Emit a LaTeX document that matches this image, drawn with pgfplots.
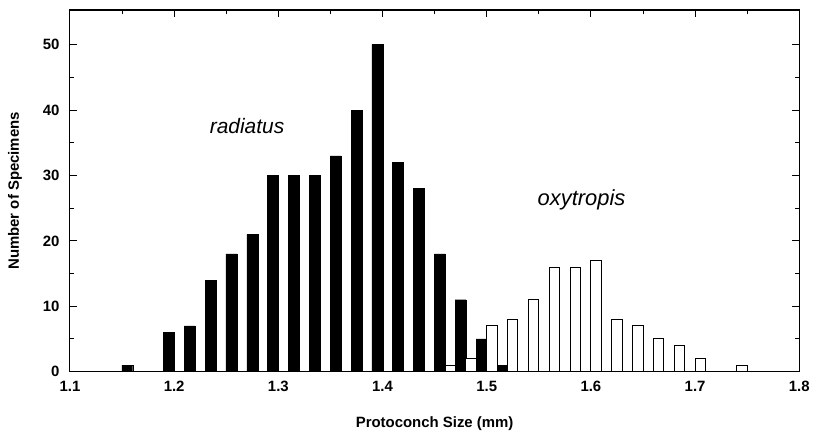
\documentclass[border=0pt]{standalone}
\usepackage{fontspec}
\setmainfont{Liberation Sans}
\usepackage{pgfplots}
\pgfplotsset{compat=1.18}

% bin centres (mm) and counts
\def\radiatus{
(1.155,1) (1.195,6) (1.215,7) (1.235,14) (1.255,18) (1.275,21)
(1.295,30) (1.315,30) (1.335,30) (1.355,33) (1.375,40) (1.395,50)
(1.415,32) (1.435,28) (1.455,18) (1.475,11) (1.495,5) (1.515,1)
}
\def\oxytropis{
(1.465,1) (1.485,2) (1.505,7) (1.525,8) (1.545,11) (1.565,16)
(1.585,16) (1.605,17) (1.625,8) (1.645,7) (1.665,5) (1.685,4)
(1.705,2) (1.745,1)
}

\begin{document}
\begin{tikzpicture}
\begin{axis}[
    scale only axis,
    width=730bp, height=362bp,
    xmin=1.1, xmax=1.8,
    ymin=0, ymax=55.3,
    xtick={1.1,1.2,...,1.8},
    ytick={0,10,...,50},
    minor x tick num=1,
    minor y tick num=1,
    tick align=inside,
    major tick length=7bp,
    minor tick length=4bp,
    axis line style={line width=1.1pt},
    every tick/.style={black, line width=1pt},
    /pgf/number format/assume math mode=true,
    /pgf/number format/fixed,
    /pgf/number format/fixed zerofill,
    /pgf/number format/precision=1,
    yticklabel style={/pgf/number format/precision=0, font=\fontsize{15}{16}\selectfont\bfseries, xshift=-7bp},
    xticklabel style={font=\fontsize{15}{16}\selectfont\bfseries, yshift=-6bp},
    xlabel={Protoconch Size (mm)},
    ylabel={Number of Specimens},
    label style={font=\fontsize{15}{18}\selectfont\bfseries},
    xlabel style={yshift=-18bp},
    ylabel style={yshift=14bp},
]
\addplot[ybar, bar width=0.0105, bar shift=0pt, fill=black, draw=black]
    coordinates {\radiatus};
\addplot[ybar, bar width=0.0100, bar shift=0pt, fill=white, draw=black, line width=1pt]
    coordinates {\oxytropis};

\node[font=\fontsize{21}{23}\selectfont\itshape] at (axis cs:1.27,37.6) {radiatus};
\node[font=\fontsize{22}{24}\selectfont\itshape] at (axis cs:1.591,26.3) {oxytropis};
\end{axis}
\path (current axis.north west) ++(0,10bp);
\path (current axis.south east) ++(13bp,0);
\path (current axis.west) ++(-70bp,0);
\end{tikzpicture}
\end{document}
